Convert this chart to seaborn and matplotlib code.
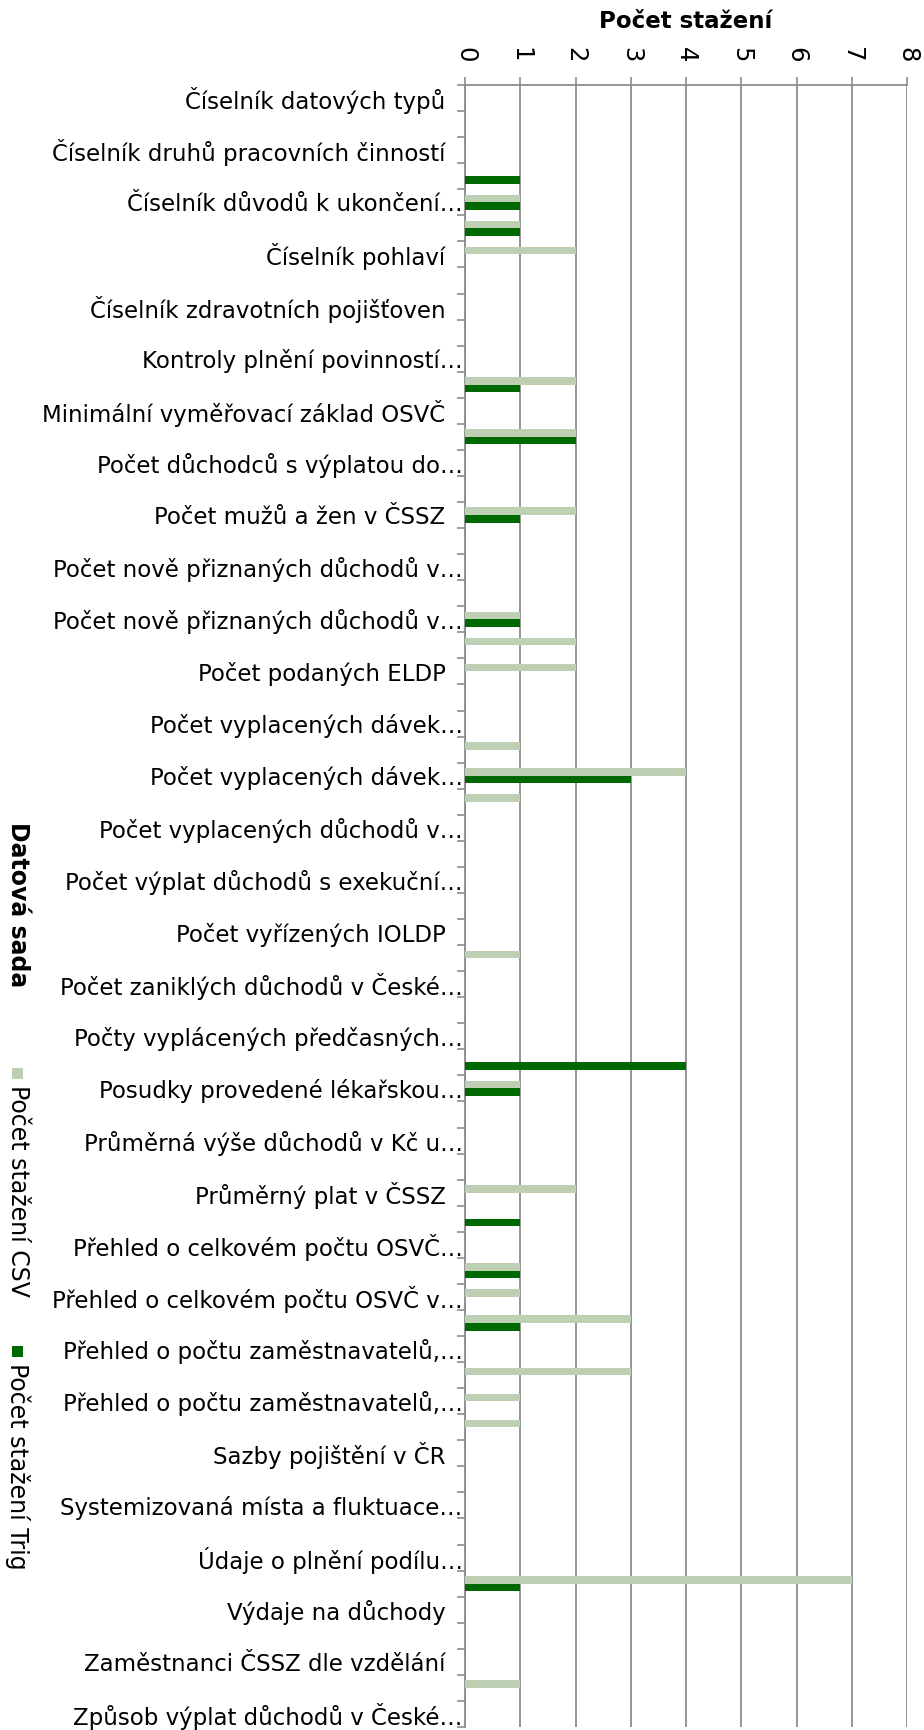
import numpy as np
import pandas as pd
import matplotlib
matplotlib.use("Agg")
import matplotlib.pyplot as plt
import seaborn as sns
from matplotlib.patches import Rectangle

# ---------------- data ----------------
# 63 categories; only every other label is shown on the axis (others hidden -> "")
category_labels = [
    "Číselník datových typů", "",
    "Číselník druhů pracovních činností", "",
    "Číselník důvodů k ukončení…", "",
    "Číselník pohlaví", "",
    "Číselník zdravotních pojišťoven", "",
    "Kontroly plnění povinností…", "",
    "Minimální vyměřovací základ OSVČ", "",
    "Počet důchodců s výplatou do…", "",
    "Počet mužů a žen v ČSSZ", "",
    "Počet nově přiznaných důchodů v…", "",
    "Počet nově přiznaných důchodů v…", "",
    "Počet podaných ELDP", "",
    "Počet vyplacených dávek…", "",
    "Počet vyplacených dávek…", "",
    "Počet vyplacených důchodů v…", "",
    "Počet výplat důchodů s exekuční…", "",
    "Počet vyřízených IOLDP", "",
    "Počet zaniklých důchodů v České…", "",
    "Počty vyplácených předčasných…", "",
    "Posudky provedené lékařskou…", "",
    "Průměrná výše důchodů v Kč u…", "",
    "Průměrný plat v ČSSZ", "",
    "Přehled o celkovém počtu OSVČ…", "",
    "Přehled o celkovém počtu OSVČ v…", "",
    "Přehled o počtu zaměstnavatelů,…", "",
    "Přehled o počtu zaměstnavatelů,…", "",
    "Sazby pojištění v ČR", "",
    "Systemizovaná místa a fluktuace…", "",
    "Údaje o plnění podílu…", "",
    "Výdaje na důchody", "",
    "Zaměstnanci ČSSZ dle vzdělání", "",
    "Způsob výplat důchodů v České…",
]

csv_values = [0, 0, 0, 0, 1, 1, 2, 0, 0, 0,
              0, 2, 0, 2, 0, 0, 2, 0, 0, 0,
              1, 2, 2, 0, 0, 1, 4, 1, 0, 0,
              0, 0, 0, 1, 0, 0, 0, 0, 1, 0,
              0, 0, 2, 0, 0, 1, 1, 3, 0, 3,
              1, 1, 0, 0, 0, 0, 0, 7, 0, 0,
              0, 1, 0]

trig_values = [0, 0, 0, 1, 1, 1, 0, 0, 0, 0,
               0, 1, 0, 2, 0, 0, 1, 0, 0, 0,
               1, 0, 0, 0, 0, 0, 3, 0, 0, 0,
               0, 0, 0, 0, 0, 0, 0, 4, 1, 0,
               0, 0, 0, 1, 0, 1, 0, 1, 0, 0,
               0, 0, 0, 0, 0, 0, 0, 1, 0, 0,
               0, 0, 0]

series_names = ["Počet stažení CSV", "Počet stažení Trig"]
series_colors = ["#BDD0B3", "#006800"]
value_ticks = [0, 1, 2, 3, 4, 5, 6, 7, 8]
x_title = "Počet stažení"
y_title = "Datová sada"

# ---------------- build frame ----------------
n = len(category_labels)
positions = list(range(n))
df = pd.DataFrame({
    "pozice": positions * 2,
    "rada": [series_names[0]] * n + [series_names[1]] * n,
    "hodnota": csv_values + trig_values,
})

sns.set_style("white")
plt.rcParams["font.family"] = ["DejaVu Sans"]
plt.rcParams["text.color"] = "black"
plt.rcParams["axes.labelcolor"] = "black"
plt.rcParams["xtick.labelcolor"] = "black"
plt.rcParams["ytick.labelcolor"] = "black"

W, H = 924, 1730
fig = plt.figure(figsize=(W / 100, H / 100), dpi=100)

left_px, right_px, top_px, bottom_px = 465, 907, 85, 1727
ax_w_px = right_px - left_px
ax = fig.add_axes([left_px / W, 1 - bottom_px / H,
                   ax_w_px / W, (bottom_px - top_px) / H])

sns.barplot(data=df, x="hodnota", y="pozice", hue="rada", orient="h",
            hue_order=series_names, palette=series_colors, order=positions,
            width=0.58, gap=0, saturation=1, legend=False, ax=ax,
            linewidth=0, zorder=3)

gray = "#8C8C8C"
ax.set_xlim(0, 8)
ax.set_ylim(n - 0.5, -0.5)

# value axis on top
ax.xaxis.tick_top()
ax.xaxis.set_label_position("top")
ax.set_xticks(value_ticks)
ax.set_xticklabels([str(v) for v in value_ticks], rotation=-90, fontsize=17.5)
ax.tick_params(axis="x", which="major", direction="out", length=6, width=1.2,
               color=gray, labelcolor="black", pad=10, top=True, bottom=False)
ax.grid(axis="x", color=gray, linewidth=1.3, zorder=0)
ax.grid(axis="y", visible=False)
ax.set_axisbelow(True)
ax.set_xlabel(x_title, fontsize=16.5, fontweight="bold", color="black")
ax.xaxis.set_label_coords(0.5, 1 + (85 - 22) / (bottom_px - top_px))
ax.xaxis.label.set_va("center")

# category axis
ax.set_yticks(positions)
ax.set_yticklabels(category_labels, fontsize=16.5, color="black")
ax.set_yticks(np.arange(-0.5, n, 1.0), minor=True)
ax.tick_params(axis="y", which="major", length=0, pad=14)
ax.tick_params(axis="y", which="minor", direction="out", length=5.5,
               width=1.2, color=gray, left=True)
ax.set_ylabel("")
# truncated labels: the ellipsis runs on past the label column, as in the source
for lab in ax.get_yticklabels():
    if lab.get_text().endswith("…"):
        lab.set_x(17 / ax_w_px)

for side in ["right", "bottom"]:
    ax.spines[side].set_visible(False)
for side in ["left", "top"]:
    ax.spines[side].set_color(gray)
    ax.spines[side].set_linewidth(1.3)

# rotated axis title on the far left
fig.text(18 / W, 1 - 905 / H, y_title, rotation=-90, ha="center", va="center",
         fontsize=17, fontweight="bold", color="black")

# rotated legend on the far left
legend_tops = [1068, 1346]
for name, color, ytop in zip(series_names, series_colors, legend_tops):
    fig.add_artist(Rectangle((12 / W, 1 - (ytop + 11) / H), 11 / W, 11 / H,
                             transform=fig.transFigure, facecolor=color,
                             edgecolor="none"))
    fig.text(18 / W, 1 - (ytop + 17) / H, name, rotation=-90, ha="center",
             va="top", fontsize=17, color="black")

fig.savefig("out.png", dpi=100, facecolor="white")
